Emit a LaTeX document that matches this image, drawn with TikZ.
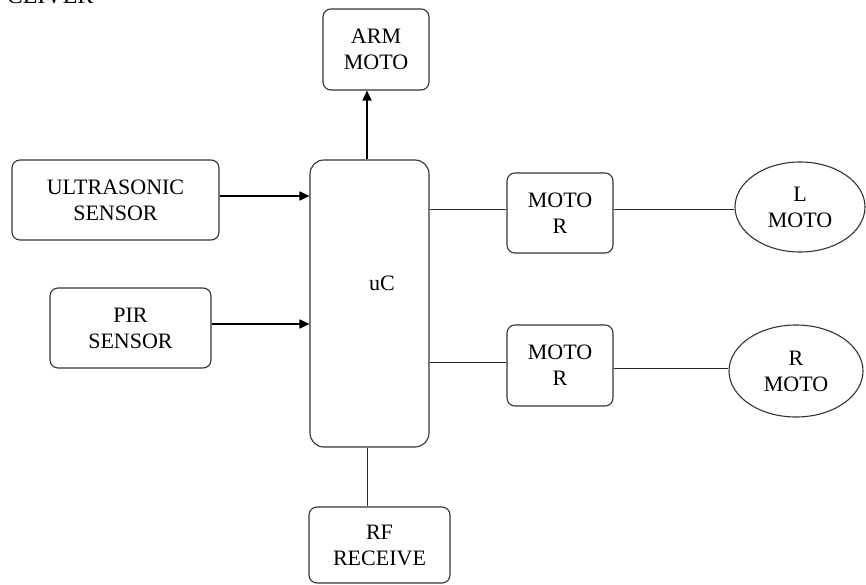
\documentclass[tikz,border=0pt]{standalone}
\usepackage{fontspec}
\setmainfont{Liberation Serif}
\usetikzlibrary{arrows.meta,shapes.geometric}
\begin{document}
\begin{tikzpicture}[x=1pt,y=-1pt,
  blk/.style={draw=black!80,line width=1.1pt,rounded corners=8pt,align=center,inner sep=0pt,
    font=\fontsize{22}{26}\selectfont},
  ell/.style={draw=black!80,line width=1.1pt,ellipse,align=center,inner sep=0pt,
    font=\fontsize{22}{26}\selectfont},
  arr/.style={line width=1.7pt,-{Triangle[length=10pt,width=9pt]}},
  wire/.style={line width=1pt,draw=black!85}]
\useasboundingbox (0,0) rectangle (866,585);
\node[anchor=base east,font=\fontsize{24}{28}\selectfont] (top) at (97,4) {CEIVER};
\node[blk,minimum width=106pt,minimum height=81pt] (arm) at (376,49.5) {ARM\\MOTO};
\node[blk,minimum width=207pt,minimum height=80pt] (ultra) at (115.5,200) {ULTRASONIC\\SENSOR};
\node[blk,minimum width=161pt,minimum height=80pt] (pir) at (130.5,328) {PIR\\SENSOR};
\node[blk,minimum width=119pt,minimum height=287pt,rounded corners=14pt] (uc) at (369.5,303.5) {};
\node[font=\fontsize{22}{26}\selectfont,anchor=base] (uclab) at (382,290) {uC};
\node[blk,minimum width=141pt,minimum height=76pt] (rf) at (379.5,545) {RF\\RECEIVE};
\node[blk,minimum width=106pt,minimum height=80pt] (m1) at (560,213) {MOTO\\R};
\node[blk,minimum width=106pt,minimum height=81pt] (m2) at (560,365.5) {MOTO\\R};
\node[ell,minimum width=130pt,minimum height=90pt] (lm) at (800,207) {L\\MOTO};
\node[ell,minimum width=134pt,minimum height=92pt] (rm) at (796,371) {R\\MOTO};
\draw[arr] ([yshift=4pt]ultra.east) -- ([yshift=4pt]ultra.east -| uc.west);
\draw[arr] ([yshift=4pt]pir.east) -- ([yshift=4pt]pir.east -| uc.west);
\draw[arr] ([xshift=-2.5pt]uc.north) -- ([xshift=-2.5pt]uc.north |- arm.south);
\draw[wire] ([yshift=3pt]m1.west -| uc.east) -- ([yshift=3pt]m1.west);
\draw[wire] ([yshift=3pt]m1.east) -- ([yshift=3pt]m1.east -| lm.west);
\draw[wire] ([yshift=3.5pt]m2.west -| uc.east) -- ([yshift=3.5pt]m2.west);
\draw[wire] ([yshift=-2.5pt]m2.east) -- ([yshift=-2.5pt]m2.east -| rm.west);
\draw[wire] ([xshift=-2.5pt]uc.south) -- ([xshift=-2.5pt]uc.south |- rf.north);
\end{tikzpicture}
\end{document}
